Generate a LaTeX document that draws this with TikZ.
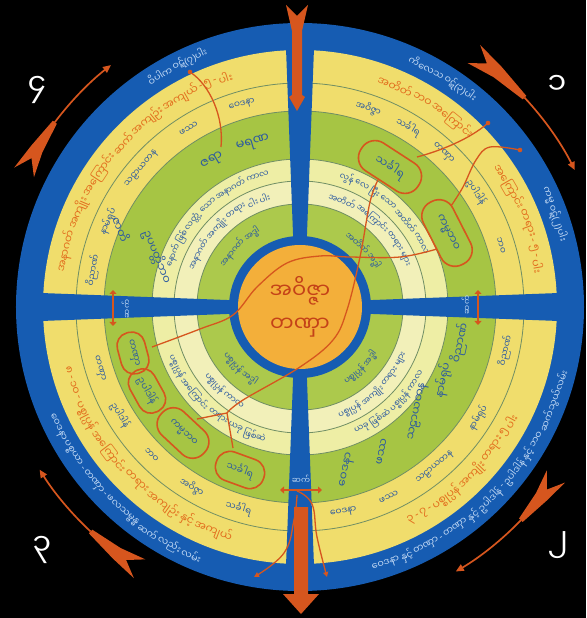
\documentclass[tikz,border=0pt]{standalone}
\usepackage{fontspec}
\newfontfamily\mya[Script=Myanmar]{Noto Sans Myanmar UI}
\newfontfamily\latf{Noto Sans}
\usetikzlibrary{arrows.meta}
\definecolor{wblue}{RGB}{22,92,178}
\definecolor{yel}{RGB}{240,221,108}
\definecolor{grn}{RGB}{166,197,68}
\definecolor{grn2}{RGB}{172,201,76}
\definecolor{pale}{RGB}{238,238,165}
\definecolor{pale2}{RGB}{242,240,185}
\definecolor{ctr}{RGB}{243,175,58}
\definecolor{arr}{RGB}{214,86,30}
\definecolor{ringline}{RGB}{112,142,100}
\definecolor{btxt}{RGB}{44,90,160}
\definecolor{otxt}{RGB}{226,110,30}
\definecolor{rtxt}{RGB}{195,218,245}
\definecolor{ctxt}{RGB}{196,66,24}
\newcommand\fRing{\mya\fontsize{9.6}{11}\selectfont}
\newcommand\fOr{\mya\fontsize{11}{13}\selectfont}
\newcommand\fSm{\mya\fontsize{8.5}{10}\selectfont}
\newcommand\fSb{\mya\fontsize{9}{11}\selectfont}
\newcommand\fGr{\mya\fontsize{11.5}{13}\selectfont}
\newcommand\fBig{\mya\fontsize{13}{15}\selectfont}
\newcommand\fOv{\mya\fontsize{9.5}{11}\selectfont}
\newcommand\fOvb{\mya\fontsize{11}{13}\selectfont}
\newcommand\HY{{\latf -}}
\newcommand\LP{{\latf (}}
\newcommand\RP{{\latf )}}
\newdimen\totl
\newbox\wbox
\newcounter{wc}
\newcommand\measw[2]{\pgfinterruptpicture\global\setbox\wbox=\hbox{#1#2}\endpgfinterruptpicture}
% r, centre angle, dir, rotation offset, style, font, words
\newcommand\arcw[7]{%
  \global\totl=0pt\relax
  \foreach \w in {#7}{\measw{#6}{\w}\global\advance\totl by \wd\wbox\relax\global\advance\totl by 2pt\relax}%
  \edef\tothalf{\the\totl}%
  \pgfmathsetmacro\sa{#2-(#3)*((\tothalf-2pt)/2)/(#1)*57.2958}%
  \xdef\curang{\sa}%
  \foreach \w in {#7}{%
    \measw{#6}{\w}%
    \edef\ww{\the\wd\wbox}%
    \pgfmathsetmacro\ca{\curang+(#3)*(\ww/2)/(#1)*57.2958}%
    \stepcounter{wc}%
    \node[#5, font=#6, rotate={\ca+(#4)}, inner sep=0pt] (w\thewc) at (\ca:#1) {\w};%
    \pgfmathsetmacro\na{\curang+(#3)*(\ww+2pt)/(#1)*57.2958}%
    \xdef\curang{\na}%
  }%
}
\newcommand\wup[6]{\node[#3, font=#4, rotate={#2-90}, inner sep=0pt] (#5) at (#2:#1) {#6};}
\newcommand\wdn[6]{\node[#3, font=#4, rotate={#2+90}, inner sep=0pt] (#5) at (#2:#1) {#6};}
\newcommand\farrow[4]{%
  \fill[arr] (#1:318) -- (#2:307) -- (#1:296) -- ({#1-(#1-#3)*0.45}:300.5) -- (#3:304.5) -- (#3:309.5) -- ({#1-(#1-#3)*0.45}:313.5) -- cycle;
  \draw[arr, line width=1.7pt, -{Triangle[length=8pt,width=7pt]}] (#3:307) arc[start angle=#3, end angle=#4, radius=307pt];
}
\tikzset{
  ringt/.style={text=rtxt},
  ort/.style={text=otxt},
  bt/.style={text=btxt},
  ovalbox/.style={draw=arr, line width=1.6pt, inner sep=0pt, text=btxt, font=\fOv},
  conn/.style={draw=arr, line width=1.3pt},
  dbl/.style={draw=arr, line width=1.8pt, {Triangle[length=4pt,width=7pt]}-{Triangle[length=4pt,width=7pt]}},
  numt/.style={text=white, font=\mya\fontsize{30}{30}\selectfont},
  bart/.style={text=rtxt, font=\mya\fontsize{8}{9}\selectfont, inner sep=0pt}
}
\begin{document}
\begin{tikzpicture}[x=1pt,y=1pt]
\useasboundingbox (-300,-311) rectangle (286,307);
\fill[black] (-300,-311) rectangle (286,307);
% outer clockwise arrows
\farrow{154}{151}{143}{128}
\farrow{55.5}{52.5}{43}{26.5}
\farrow{-33.5}{-36.5}{-44}{-59.5}
\farrow{-121.5}{-124.5}{-133}{-148}
% wheel
\fill[wblue] (0,0) circle[radius=284pt];
\fill[yel] (0,0) circle[radius=257pt];
\fill[grn] (0,0) circle[radius=196pt];
\fill[pale] (0,0) circle[radius=148pt];
\fill[pale2] (0,0) circle[radius=126pt];
\fill[grn2] (0,0) circle[radius=103pt];
\foreach \r in {224,196,148,126,103} \draw[ringline, line width=0.8pt] (0,0) circle[radius=\r pt];
\foreach \a in {0,90,180,270} \fill[wblue, rotate=\a] (60,-6.5) -- (272,-14.5) -- (272,14.5) -- (60,6.5) -- cycle;
\fill[wblue] (0,0) circle[radius=71pt];
\fill[ctr] (0,0) circle[radius=62pt];
% top and bottom arrows
\fill[arr] (-14,302) -- (-3,291) -- (8,302) -- (2,276) -- (2,212) -- (5,210) -- (-3,196) -- (-11,210) -- (-8,212) -- (-8,276) -- cycle;
\fill[arr] (-6,-200) -- (8,-200) -- (8,-287) -- (19,-287) -- (1,-307) -- (-17,-287) -- (-6,-287) -- cycle;
% joint markers on the bars
\coordinate (jl1) at (-187,17); \coordinate (jl2) at (-187,-19);
\coordinate (jr1) at (178,17);  \coordinate (jr2) at (178,-18);
\coordinate (jb1) at (-20,-183); \coordinate (jb2) at (22,-183);
\draw[dbl] (jl1) -- (jl2);
\draw[dbl] (jr1) -- (jr2);
\draw[dbl] (jb1) -- (jb2);
\node[bart, rotate=90] (bl) at (-174,-2) {ဆက်};
\node[bart, rotate=90] (br) at (166,2) {ဆက်};
\node[bart] (bb) at (1,-172) {ဆက်};
% numbers
\node[numt] (n4) at (-263,217) {၄};
\node[numt] (n1) at (257,222) {၁};
\node[numt] (n2) at (258,-238) {၂};
\node[numt] (n3) at (-258,-243) {၃};
% centre
\node[text=ctxt, font=\mya\fontsize{21}{23}\selectfont] (c1) at (0,16) {အဝိဇ္ဇာ};
\node[text=ctxt, font=\mya\fontsize{21}{23}\selectfont] (c2) at (0,-21) {တဏှာ};
% ---------------- top-left quadrant
\arcw{271}{117}{-1}{-90}{ringt}{\fRing}{ဝိပါက,ဝဋ်\LP၇\RP ပါး}
\arcw{241}{139}{-1}{-90}{ort}{\fOr}{အနာဂတ်,အကျိုး,အကြောင်း,ဆက်,အကျဉ်း,အကျယ်,\HY,၅,\HY,ပါး}
\wup{210}{170}{bt}{\fSb}{tl1}{ဝိညာဏ်}
\wup{210}{156}{bt}{\fSb}{tl2}{နာမ်ရုပ်}
\wup{210}{139}{bt}{\fSb}{tl3}{သဠာယတန}
\wup{210}{122}{bt}{\fSb}{tl4}{ဖဿ}
\wup{210}{106}{bt}{\fSb}{tl5}{ဝေဒနာ}
\wup{170}{121}{bt}{\fBig}{tl6}{ဇရာ}
\wup{170}{106}{bt}{\fBig}{tl7}{မရဏ}
\node[bt, font=\fGr, rotate=-68, inner sep=0pt] (tl8) at (-179,78) {ဇာတိ};
\node[bt, font=\fGr, rotate=-68, inner sep=0pt] (tl9) at (-143,50) {ဥပပတ္တိဘဝ};
\arcw{137}{133}{-1}{-90}{bt}{\fSm}{နောက်,ဖြစ်,လတ္တံ့,သော,အနာဂတ်,ကာလ}
\arcw{114.5}{133}{-1}{-90}{bt}{\fSm}{အနာဂတ်,အကျိုး,တရား,ငါး,ပါး}
\arcw{87}{135}{-1}{-90}{bt}{\fSm}{အနာဂတ်,အဒ္ဓါ}
% ---------------- top-right quadrant
\arcw{271}{58}{-1}{-90}{ringt}{\fRing}{ကိလေသ,ဝဋ်\LP၃\RP ပါး}
\arcw{271}{20}{-1}{-90}{ringt}{\fRing}{ကမ္မ,ဝဋ်\LP၂\RP ပါး}
\arcw{241}{58}{-1}{-90}{ort}{\fOr}{အတိတ်,ဘဝ,အကြောင်း}
\arcw{241}{22}{-1}{-90}{ort}{\fOr}{အကြောင်း,တရား,\HY,၅,\HY,ပါး}
\wup{210}{71}{bt}{\fSb}{tr1}{အဝိဇ္ဇာ}
\wup{210}{59}{bt}{\fSb}{tr2}{သင်္ခါရ}
\wup{210}{47}{bt}{\fSb}{tr3}{တဏှာ}
\wup{210}{33}{bt}{\fSb}{tr4}{ဥပါဒါန်}
\wup{210}{17}{bt}{\fSb}{tr5}{ဘဝ}
\node[ovalbox, font=\fOvb, minimum width=68pt, minimum height=33pt, rounded corners=15.5pt, rotate=-33] (ov1) at (90,140) {သင်္ခါရ};
\node[ovalbox, font=\fOvb, minimum width=70pt, minimum height=33pt, rounded corners=15.5pt, rotate=-63] (ov2) at (147,74) {ကမ္မဘဝ};
\arcw{137}{48}{-1}{-90}{bt}{\fSm}{လွန်,လေ,ပြီး,သော,အတိတ်,ကာလ}
\arcw{114.5}{48}{-1}{-90}{bt}{\fSm}{အတိတ်,အကြောင်း,တရား,များ}
\arcw{87}{42}{-1}{-90}{bt}{\fSm}{အတိတ်,အဒ္ဓါ}
% ---------------- bottom-right quadrant
\arcw{271}{-44}{1}{90}{ringt}{\fRing}{ဝေဒနာ,နှင့်,တဏှာ,\HY,တဏှာ,နှင့်,ဥပါဒါန်,\HY,ဥပါဒါန်,နှင့်,ဘဝ,ဆက်သွယ်လမ်း}
\arcw{240}{-45}{1}{90}{ort}{\fOr}{၃,\HY,၇,\HY,ပစ္စုပ္ပန်,အကျိုး,တရား,၅,ပါး}
\wdn{210}{-78}{bt}{\fSb}{br1}{ဝေဒနာ}
\wdn{210}{-65}{bt}{\fSb}{br2}{ဖဿ}
\wdn{210}{-50}{bt}{\fSb}{br3}{သဠာယတန}
\wdn{210}{-32}{bt}{\fSb}{br4}{နာမ်ရုပ်}
\wdn{210}{-12}{bt}{\fSb}{br5}{ဝိညာဏ်}
\node[bt, font=\fGr, rotate=78, inner sep=0pt] (br6) at (160,-36) {ဝိညာဏ်};
\node[bt, font=\fGr, rotate=78, inner sep=0pt] (br7) at (143,-73) {နာမ်ရုပ်};
\node[bt, font=\fGr, rotate=78, inner sep=0pt] (br8) at (118,-105) {သဠာယတန};
\node[bt, font=\fGr, rotate=78, inner sep=0pt] (br9) at (82,-145) {ဖဿ};
\node[bt, font=\fGr, rotate=78, inner sep=0pt] (br10) at (47,-163) {ဝေဒနာ};
\arcw{137}{-47}{1}{90}{bt}{\fSm}{ယခု,ဖြစ်ဆဲ,ပစ္စုပ္ပန်,ကာလ}
\arcw{114.5}{-47}{1}{90}{bt}{\fSm}{ပစ္စုပ္ပန်,အကျိုး,တရား,များ}
\arcw{87}{-45}{1}{90}{bt}{\fSm}{ပစ္စုပ္ပန်,အဒ္ဓါ}
% ---------------- bottom-left quadrant
\arcw{271}{226}{1}{90}{ringt}{\fRing}{ဝေဒနာ,ပစ္စယာ,\HY,တဏှာ,\HY,ဖလသမ္ဗန္ဓ,ဆက်,လည်း,လမ်း}
\arcw{240}{224}{1}{90}{ort}{\fOr}{၈,\HY,၁၀,\HY,ပစ္စုပ္ပန်,အကြောင်း,တရား,အကျဉ်း,နှင့်,အကျယ်}
\wdn{210}{197}{bt}{\fSb}{bl1}{တဏှာ}
\wdn{210}{211}{bt}{\fSb}{bl2}{ဥပါဒါန်}
\wdn{210}{225}{bt}{\fSb}{bl3}{ဘဝ}
\wdn{210}{239}{bt}{\fSb}{bl4}{အဝိဇ္ဇာ}
\wdn{210}{253}{bt}{\fSb}{bl5}{သင်္ခါရ}
\node[ovalbox, minimum width=42pt, minimum height=28pt, rounded corners=13pt, rotate=-75] (ov3) at (-167,-46) {တဏှာ};
\node[ovalbox, minimum width=46pt, minimum height=28pt, rounded corners=13pt, rotate=-61] (ov4) at (-153,-84) {ဥပါဒါန်};
\node[ovalbox, minimum width=58pt, minimum height=32pt, rounded corners=15pt, rotate=-43] (ov5) at (-117,-126) {ကမ္မဘဝ};
\node[ovalbox, minimum width=50pt, minimum height=30pt, rounded corners=14pt, rotate=-20] (ov6) at (-60,-163) {သင်္ခါရ};
\arcw{137}{228}{1}{90}{bt}{\fSm}{ပစ္စုပ္ပန်,အကြောင်း,တရား,ယခု,ဖြစ်ဆဲ}
\arcw{114.5}{228}{1}{90}{bt}{\fSm}{ပစ္စုပ္ပန်,ကာလ}
\arcw{87}{226}{1}{90}{bt}{\fSm}{ပစ္စုပ္ပန်,အဒ္ဓါ}
% ---------------- connecting lines
\coordinate (pA) at (-110,235);
\coordinate (pB) at (188,184);
\coordinate (pC) at (220,157);
\coordinate (kD) at (-73,-106);
\fill[arr] (pA) circle[radius=2.3pt];
\fill[arr] (pB) circle[radius=2.3pt];
\fill[arr] (pC) circle[radius=2.3pt];
\draw[conn] (pA) .. controls (-90,222) and (-76,190) .. (-79,160);
\draw[conn] (pB) .. controls (170,168) and (140,156) .. (117,150);
\draw[conn] plot[smooth, tension=0.6] coordinates {(220,157) (190,160) (176,147) (163,120) (151,101)};
\draw[conn] plot[smooth, tension=0.6] coordinates {(78,127) (70,105) (60,50) (47,-3) (33,-33) (0,-60) (-57,-93) (-73,-106)};
\draw[conn] (kD) -- (-103,-112);
\draw[conn] (kD) -- (-67,-141);
\draw[conn] plot[smooth, tension=0.6] coordinates {(137,58) (100,50) (50,50) (20,51) (-13,44) (-43,20) (-67,-8) (-100,-22) (-148,-40)};
\draw[conn, -{Triangle[length=5pt,width=5pt]}] plot[smooth, tension=0.7] coordinates {(-3,-188) (-6,-213) (-16,-246) (-46,-270)};
\draw[conn, -{Triangle[length=5pt,width=5pt]}] plot[smooth, tension=0.7] coordinates {(-3,-184) (12,-197) (17,-230) (27,-270)};
\end{tikzpicture}
\end{document}
